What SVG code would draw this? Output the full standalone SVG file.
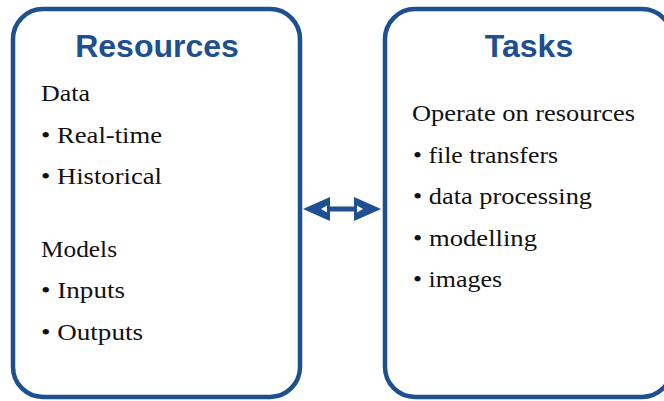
<svg xmlns="http://www.w3.org/2000/svg" width="664" height="401" viewBox="0 0 664 401">
<style>
.box{fill:#fff;stroke:#1d4f91;stroke-width:4.5}
.title{font-family:"Liberation Sans",Arial,sans-serif;font-weight:bold;font-size:32px;fill:#1d4f91;text-anchor:middle}
.body{font-family:"Liberation Serif","Times New Roman",serif;font-size:24px;fill:#111}
.arr{fill:#1d4f91}
</style>
<rect width="664" height="401" fill="#fff"/>
<g id="connectors">
<line x1="320" y1="209" x2="365" y2="209" stroke="#1d4f91" stroke-width="5"/>
<polygon class="arr" points="303,209 330,197 330,221"/>
<polygon points="321,209 327,205.5 327,212.5" fill="#fff"/>
<polygon class="arr" points="381,209 354,197 354,221"/>
<polygon points="363,209 357,205.5 357,212.5" fill="#fff"/>
</g>
<g id="resources">
<rect class="box" x="13" y="9" width="287" height="388" rx="30" ry="30"/>
<text class="title" x="157" y="57">Resources</text>
<text class="body" x="41" y="101" textLength="49" lengthAdjust="spacingAndGlyphs">Data</text>
<text class="body" x="41" y="143" textLength="121" lengthAdjust="spacingAndGlyphs">• Real-time</text>
<text class="body" x="41" y="184" textLength="121" lengthAdjust="spacingAndGlyphs">• Historical</text>
<text class="body" x="41" y="257" textLength="76" lengthAdjust="spacingAndGlyphs">Models</text>
<text class="body" x="41" y="298" textLength="84" lengthAdjust="spacingAndGlyphs">• Inputs</text>
<text class="body" x="41" y="340" textLength="102" lengthAdjust="spacingAndGlyphs">• Outputs</text>
</g>
<g id="tasks">
<rect class="box" x="385" y="9" width="287" height="388" rx="30" ry="30"/>
<text class="title" x="529" y="57">Tasks</text>
<text class="body" x="412" y="121" textLength="223" lengthAdjust="spacingAndGlyphs">Operate on resources</text>
<text class="body" x="413" y="163" textLength="145" lengthAdjust="spacingAndGlyphs">• file transfers</text>
<text class="body" x="413" y="204" textLength="179" lengthAdjust="spacingAndGlyphs">• data processing</text>
<text class="body" x="413" y="246" textLength="124" lengthAdjust="spacingAndGlyphs">• modelling</text>
<text class="body" x="413" y="287" textLength="89" lengthAdjust="spacingAndGlyphs">• images</text>
</g>
</svg>
